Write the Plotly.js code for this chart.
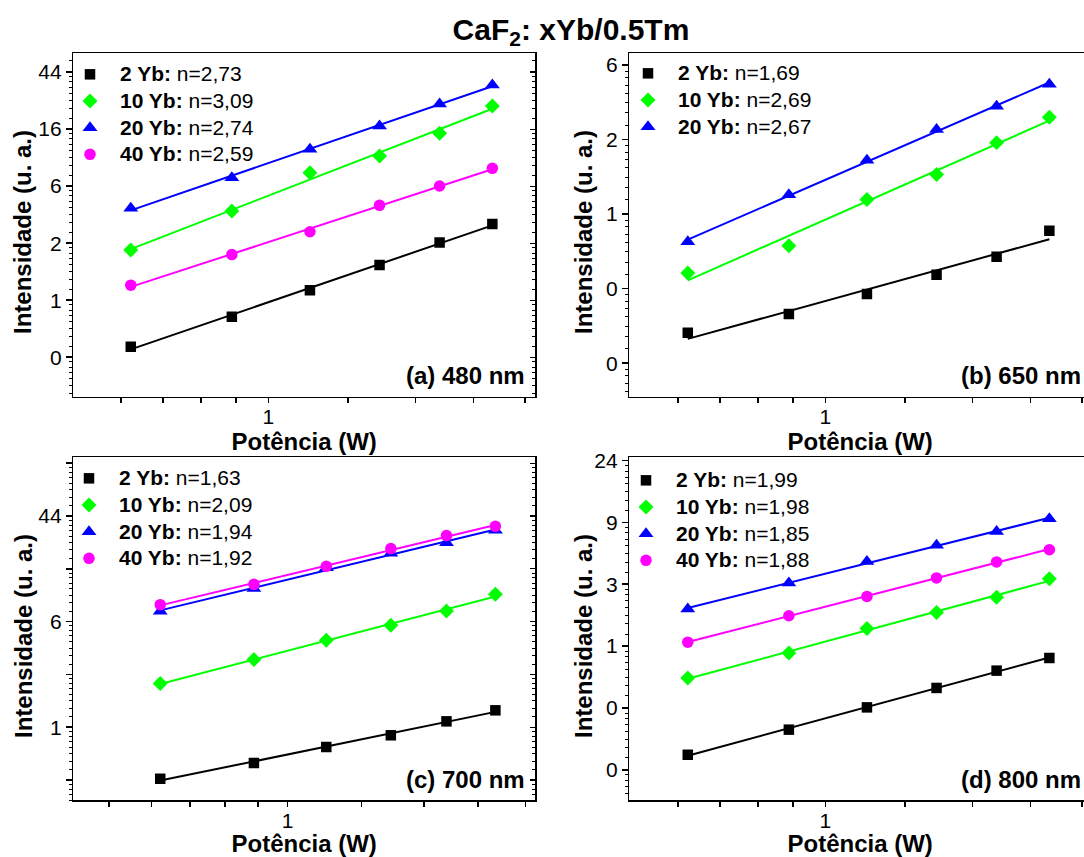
<!DOCTYPE html>
<html><head><meta charset="utf-8">
<script src="https://cdn.plot.ly/plotly-3.0.1.min.js"></script>
<style>html,body{margin:0;padding:0;overflow:hidden;background:#fff}</style>
</head><body><div id="chart" style="width:1096px;height:857px"></div>
<script>
// ---- data ----
const power = [0.73, 0.92, 1.10, 1.29, 1.48, 1.67];
const groups = ['2 Yb', '10 Yb', '20 Yb', '40 Yb'];

const a480_2Yb  = [0.36, 0.61, 0.97, 1.51, 2.24, 3.09];
const a480_10Yb = [1.96, 3.89, 7.60, 10.19, 15.17, 24.46];
const a480_20Yb = [4.07, 6.97, 11.45, 17.24, 25.33, 35.35];
const a480_40Yb = [1.06, 1.81, 2.70, 4.29, 6.02, 8.21];
const a480_n = ['2,73', '3,09', '2,74', '2,59'];

const b650_2Yb  = [0.171, 0.220, 0.287, 0.372, 0.474, 0.672];
const b650_10Yb = [0.381, 0.549, 1.02, 1.43, 2.19, 3.08];
const b650_20Yb = [0.580, 1.09, 1.73, 2.61, 3.57, 4.79];
const b650_n = ['1,69', '2,69', '2,67'];

const c700_2Yb  = [0.307, 0.413, 0.559, 0.698, 0.909, 1.12];
const c700_10Yb = [1.86, 2.93, 4.22, 5.60, 7.35, 10.08];
const c700_20Yb = [7.30, 11.23, 16.71, 21.92, 26.82, 33.86];
const c700_40Yb = [8.29, 12.17, 17.12, 23.95, 30.64, 36.53];
const c700_n = ['1,63', '2,09', '1,94', '1,92'];

const d800_2Yb  = [0.211, 0.316, 0.453, 0.620, 0.820, 1.006];
const d800_10Yb = [0.729, 1.09, 1.62, 2.10, 2.68, 3.62];
const d800_20Yb = [2.22, 3.38, 4.79, 6.21, 7.78, 9.55];
const d800_40Yb = [1.30, 1.99, 2.72, 3.67, 4.75, 5.79];
const d800_n = ['1,99', '1,98', '1,85', '1,88'];

// tick labels
const ya_vals = [44.4, 16.33, 6.01, 2.21, 0.814, 0.2995];
const ya_text = ['44', '16', '6', '2', '1', '0'];
const yb_vals = [6.2, 2.281, 0.839, 0.3087, 0.1136];
const yb_text = ['6', '2', '1', '0', '0'];
const yc_vals = [120.7, 44.4, 16.33, 6.01, 2.21, 0.814, 0.2995];
const yc_text = ['', '44', '', '6', '', '1', ''];
const yd_vals = [24.5, 9.01, 3.315, 1.22, 0.449, 0.165];
const yd_text = ['24', '9', '3', '1', '0', '0'];
const x_vals = [0.714, 0.786, 0.857, 0.929, 1, 1.2, 1.4, 1.6, 1.8];
const x_text = ['', '', '', '', '1', '', '', '', ''];
const xc_vals = [0.643, 0.714, 0.786, 0.857, 0.929, 1, 1.2, 1.4, 1.6, 1.8];
const xc_text = ['', '', '', '', '', '1', '', '', '', ''];

const panelLabels = ['(a) 480 nm', '(b) 650 nm', '(c) 700 nm', '(d) 800 nm'];
const xTitle = 'Potência (W)';
const yTitle = 'Intensidade (u. a.)';

// ---- styles ----
const FONT = 'Liberation Sans, Arial, Helvetica, sans-serif';
const colors = ['#000000', '#00ff00', '#0000ff', '#ff00ff'];
const symbols = ['square', 'diamond', 'triangle-up', 'circle'];
const msizes = [10.5, 11.5, 13, 11.5];

function fit(x, y) {
  const lx = x.map(Math.log), ly = y.map(Math.log);
  const n = lx.length;
  const mx = lx.reduce((s, v) => s + v, 0) / n, my = ly.reduce((s, v) => s + v, 0) / n;
  let sxy = 0, sxx = 0;
  for (let i = 0; i < n; i++) { sxy += (lx[i] - mx) * (ly[i] - my); sxx += (lx[i] - mx) ** 2; }
  const b = sxy / sxx, a = my - b * mx;
  return x.map(v => Math.exp(a + b * Math.log(v)));
}

const traces = [];
function addPanel(series, nvals, xa, ya, legendId) {
  series.forEach((ys, i) => {
    traces.push({
      x: power, y: fit(power, ys), xaxis: xa, yaxis: ya, mode: 'lines',
      line: {color: colors[i], width: 2}, showlegend: false, hoverinfo: 'skip'
    });
  });
  series.forEach((ys, i) => {
    traces.push({
      x: power, y: ys, xaxis: xa, yaxis: ya, mode: 'markers',
      marker: {symbol: symbols[i], size: msizes[i], color: colors[i], line: {width: 0}},
      name: '<span style="font-size:21px"><b>' + groups[i] + ':</b> n=' + nvals[i] + '</span>',
      legend: legendId
    });
  });
}
addPanel([a480_2Yb, a480_10Yb, a480_20Yb, a480_40Yb], a480_n, 'x', 'y', 'legend');
addPanel([b650_2Yb, b650_10Yb, b650_20Yb], b650_n, 'x2', 'y2', 'legend2');
addPanel([c700_2Yb, c700_10Yb, c700_20Yb, c700_40Yb], c700_n, 'x3', 'y3', 'legend3');
addPanel([d800_2Yb, d800_10Yb, d800_20Yb, d800_40Yb], d800_n, 'x4', 'y4', 'legend4');

function minorVals(vals, range) {
  const s = [...vals].sort((p, q) => p - q);
  const r = Math.E;
  const all = [s[0] / r, ...s, s[s.length - 1] * r];
  const out = [];
  for (let k = 0; k < all.length - 1; k++) {
    const lo = all[k], hi = all[k + 1];
    for (let j = 1; j < 8; j++) out.push(lo + (hi - lo) * j / 8);
  }
  const lo = Math.pow(10, range[0]), hi = Math.pow(10, range[1]);
  return out.filter(v => v > lo && v < hi);
}

function xAxis(domain, range, vals, text, anchor) {
  return {
    type: 'log', domain, range, anchor, tickmode: 'array', tickvals: vals, ticktext: text,
    ticks: 'outside', ticklen: 5, tickwidth: 1.5, tickcolor: '#000', ticklabelstandoff: -4,
    showline: true, mirror: true, linewidth: 1.5, linecolor: '#000',
    showgrid: false, zeroline: false, tickfont: {size: 21, family: FONT, color: '#000'},
    title: {text: '<b>' + xTitle + '</b>', font: {size: 24, family: FONT, color: '#000'}, standoff: 0}
  };
}
function yAxis(domain, range, vals, text, anchor) {
  return {
    type: 'log', domain, range, anchor, tickmode: 'array', tickvals: vals, ticktext: text,
    ticks: 'outside', ticklen: 6, tickwidth: 1.5, tickcolor: '#000',
    showline: true, mirror: true, linewidth: 1.5, linecolor: '#000',
    showgrid: false, zeroline: false, tickfont: {size: 21, family: FONT, color: '#000'},
    minor: {tickvals: minorVals(vals, range), ticks: 'outside', ticklen: 3, tickwidth: 1, tickcolor: '#000', showgrid: false}
  };
}
function yRight(base, overlay, anchor) {
  return {
    type: 'log', domain: base.domain, range: base.range, overlaying: overlay, side: 'right', anchor,
    tickmode: 'array', tickvals: base.tickvals, showticklabels: false,
    ticks: 'inside', ticklen: 5, tickwidth: 1.2, tickcolor: '#000', showgrid: false, zeroline: false, showline: false,
    minor: {tickvals: base.minor.tickvals, ticks: 'inside', ticklen: 3, tickwidth: 1, tickcolor: '#000', showgrid: false}
  };
}

const W = 1096, H = 857;
const xdomL = [73.3 / W, 535 / W], xdomR = [629.3 / W, 1091 / W];
const ydomT = [1 - 396.7 / H, 1 - 53.3 / H], ydomB = [1 - 800.3 / H, 1 - 457 / H];

const ya = yAxis(ydomT, [-0.824, 1.790], ya_vals, ya_text, 'x');
const yb = yAxis(ydomT, [-1.140, 0.861], yb_vals, yb_text, 'x2');
const yc = yAxis(ydomB, [-0.691, 2.133], yc_vals, yc_text, 'x3');
const yd = yAxis(ydomB, [-0.996, 1.413], yd_vals, yd_text, 'x4');

function legendAt(px, py) {
  return {
    x: px / W, y: 1 - py / H, xanchor: 'left', yanchor: 'top', bgcolor: 'rgba(0,0,0,0)',
    font: {size: 18.2, family: FONT, color: '#000'}, itemwidth: 50, traceorder: 'normal'
  };
}

const annotations = panelLabels.map((t, i) => ({
  text: '<b>' + t + '</b>', xref: (i === 0 ? 'x' : 'x' + (i + 1)) + ' domain', yref: (i === 0 ? 'y' : 'y' + (i + 1)) + ' domain',
  x: 1, y: 0, xanchor: 'right', yanchor: 'middle', xshift: -8, yshift: 21, showarrow: false,
  font: {size: 24, family: FONT, color: '#000'}
}));
// y-axis titles (positioned like the original, slightly below the axis centre)
[[22, 232], [583, 232], [23, 636], [583, 636]].forEach(([px, py]) => {
  annotations.push({
    text: '<b>' + yTitle + '</b>', xref: 'paper', yref: 'paper', x: px / W, y: 1 - py / H,
    xanchor: 'center', yanchor: 'middle', textangle: -90, showarrow: false,
    font: {size: 24, family: FONT, color: '#000'}
  });
});

const layout = {
  width: W, height: H, margin: {l: 0, r: 0, t: 0, b: 0},
  paper_bgcolor: '#fff', plot_bgcolor: '#fff',
  font: {family: FONT, color: '#000'},
  title: {text: '<b>CaF<sub>2</sub>: xYb/0.5Tm</b>', x: 571 / W, xref: 'container', xanchor: 'center',
          y: 1 - 29 / H, yref: 'container', yanchor: 'middle', font: {size: 30, family: FONT, color: '#000'}},
  xaxis: xAxis(xdomL, [-0.1938, 0.2651], x_vals, x_text, 'y'),
  xaxis2: xAxis(xdomR, [-0.1948, 0.2641], x_vals, x_text, 'y2'),
  xaxis3: xAxis(xdomL, [-0.2299, 0.2652], xc_vals, xc_text, 'y3'),
  xaxis4: xAxis(xdomR, [-0.1948, 0.2641], x_vals, x_text, 'y4'),
  yaxis: ya, yaxis2: yb, yaxis3: yc, yaxis4: yd,
  yaxis5: yRight(ya, 'y', 'x'), yaxis6: yRight(yb, 'y2', 'x2'),
  yaxis7: yRight(yc, 'y3', 'x3'), yaxis8: yRight(yd, 'y4', 'x4'),
  legend: legendAt(60, 56), legend2: legendAt(618, 55), legend3: legendAt(59, 460), legend4: legendAt(616, 462),
  annotations, showlegend: true
};

// empty traces to activate the right-side overlay axes
[['x', 'y5'], ['x2', 'y6'], ['x3', 'y7'], ['x4', 'y8']].forEach(([xa, yax]) => {
  traces.push({x: [], y: [], xaxis: xa, yaxis: yax, mode: 'markers', showlegend: false, hoverinfo: 'skip'});
});

Plotly.newPlot('chart', traces, layout, {displayModeBar: false, staticPlot: true});
</script></body></html>
